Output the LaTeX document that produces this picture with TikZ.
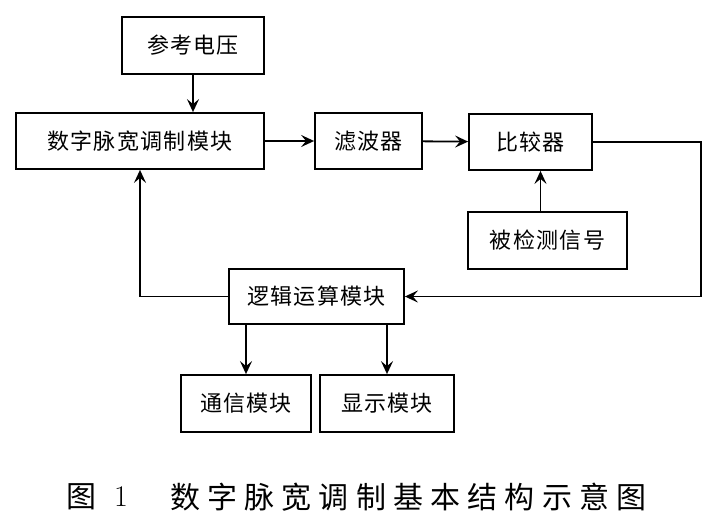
\documentclass[tikz,border=0pt]{standalone}
\usepackage{fontspec}
\newfontfamily\cjk[LetterSpace=6]{Noto Sans CJK SC}
\newfontfamily\cjkcap[LetterSpace=24]{Noto Sans CJK SC}
\usetikzlibrary{arrows.meta}
\tikzset{
  blk/.style={draw,line width=1.8pt,inner sep=0pt,font=\cjk\fontsize{22}{24}\selectfont},
  arr/.style={line width=1.8pt,-{Stealth[length=13pt,width=12pt,inset=5pt]}},
  ln/.style={line width=1.8pt}
}
\begin{document}
\begin{tikzpicture}[x=1pt,y=-1pt]
	\useasboundingbox (0,0) rectangle (719,530);
	% boxes
	\node[blk,minimum width=142pt,minimum height=57pt] (ref) at (193,45.5) {参考电压};
	\node[blk,minimum width=248pt,minimum height=56pt] (pwm) at (140,141) {数字脉宽调制模块};
	\node[blk,minimum width=107pt,minimum height=56pt] (filt) at (368.5,141) {滤波器};
	\node[blk,minimum width=123pt,minimum height=56pt] (comp) at (530.5,142) {比较器};
	\node[blk,minimum width=159pt,minimum height=57pt] (sig) at (547.5,240.5) {被检测信号};
	\node[blk,minimum width=175pt,minimum height=55pt] (logic) at (316.5,296.5) {逻辑运算模块};
	\node[blk,minimum width=130pt,minimum height=57pt] (comm) at (246,403.5) {通信模块};
	\node[blk,minimum width=134pt,minimum height=57pt] (disp) at (387,403.5) {显示模块};
	% connectors
	\draw[arr] (ref.south) -- (ref.south |- pwm.north);
	\draw[arr] (pwm) -- (filt);
	\draw[arr] (filt) -- (comp);
	\draw[arr] ([xshift=-7pt]sig.north) -- ([xshift=-7pt]sig.north |- comp.south);
	\draw[arr] (comp.east) -- ++(108,0) |- (logic.east);
	\draw[arr] (logic.west) -| (pwm.south);
	\draw[arr] (logic.south -| comm.north) -- (comm.north);
	\draw[arr] (logic.south -| disp.north) -- (disp.north);
	% caption
	\node[font=\cjk\fontsize{30}{32}\selectfont] (capfig) at (81,497) {图};
	\node[font=\fontsize{30}{32}\selectfont] (capnum) at (121,497) {1};
	\node[anchor=west,inner sep=0pt,font=\cjkcap\fontsize{30}{32}\selectfont] (captitle) at (170,497) {数字脉宽调制基本结构示意图};
\end{tikzpicture}
\end{document}
